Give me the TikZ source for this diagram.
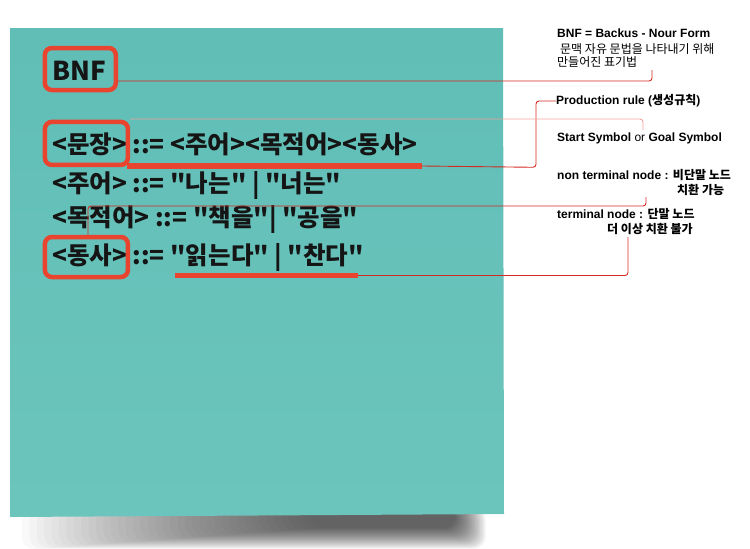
\documentclass[tikz,border=0pt]{standalone}
\usepackage{fontspec}
\setmainfont{Liberation Sans}
\newfontfamily\kr{Noto Sans CJK KR}
\definecolor{panel}{HTML}{60BEB6}
\definecolor{panellow}{HTML}{6CC5BD}
\definecolor{boxred}{HTML}{E8442F}
\definecolor{linered}{HTML}{D42A22}
\definecolor{lightred}{HTML}{F2A49C}
\definecolor{ink}{HTML}{151515}
\tikzset{
  mainline/.style={anchor=base west, inner sep=0pt, text=ink,
    font=\kr\bfseries\fontsize{24.5}{28}\selectfont},
  note/.style={anchor=base west, inner sep=0pt, text=black,
    font=\fontsize{12}{14}\selectfont},
  redbox/.style={draw=boxred, line width=4.5pt, rounded corners=7pt, inner sep=0pt},
  uline/.style={draw=boxred, line width=5.5pt},
  conn/.style={draw=linered, line width=0.9pt, rounded corners=3pt},
  lightconn/.style={draw=lightred, line width=0.9pt, rounded corners=3pt},
}
\begin{document}
\begin{tikzpicture}[x=1pt,y=-1pt]
\useasboundingbox (0,0) rectangle (750,549);
% shadow
\foreach \i in {0,...,39}{
  \fill[black, opacity=0.022, rounded corners=12pt]
    ({22+7.4*\i},508) rectangle ({486-0.8*\i},{549-0.55*\i});
}
% panel
\shade[top color=panel, bottom color=panellow] (10,28) -- (503,28) -- (504,514) -- (10,517) -- cycle;

% main text
\node[mainline, font=\kr\bfseries\fontsize{26}{30}\selectfont] (bnf) at (52,80) {BNF};
\node[mainline] (l1) at (52,153) {<문장> ::= <주어><목적어><동사>};
\node[mainline] (l2) at (52,192) {<주어> ::= "나는" | "너는"};
\node[mainline] (l3) at (52,226) {<목적어> ::= "책을"| "공을"};
\node[mainline] (l4) at (52,264) {<동사> ::= "읽는다" | "찬다"};

% red boxes
\node[redbox, minimum width=71pt, minimum height=42pt] (bnfbox) at (80.3,69) {};
\node[redbox, minimum width=83pt, minimum height=43pt] (mbox) at (86.4,143.4) {};
\node[redbox, minimum width=83pt, minimum height=40pt] (dbox) at (86.4,257) {};

% underlines
\coordinate (u1s) at (127,166);
\coordinate (u1e) at (422,166);
\coordinate (u2s) at (175,275.5);
\coordinate (u2e) at (358,275.5);
\draw[uline] (u1s) -- (u1e);
\draw[uline] (u2s) -- (u2e);

% notes
\node[note, font=\bfseries\fontsize{12}{14}\selectfont] (n1a) at (557,37) {BNF = Backus - Nour Form};
\node[note] (n1b) at (560,53) {{\kr 문맥 자유 문법을 나타내기 위해}};
\node[note] (n1c) at (557,66) {{\kr 만들어진 표기법}};
\node[note] (n2) at (556,104) {\bfseries Production rule ({\kr\bfseries 생성규칙})};
\node[note] (n3) at (557,141) {\bfseries Start Symbol \mdseries or \bfseries Goal Symbol};
\node[note] (n4a) at (557,179) {\bfseries non terminal node : {\kr\bfseries 비단말 노드}};
\node[note] (n4b) at (677,194) {{\kr\bfseries 치환 가능}};
\node[note] (n5a) at (557,218) {\bfseries terminal node : {\kr\bfseries 단말 노드}};
\node[note] (n5b) at (607,233) {{\kr\bfseries 더 이상 치환 불가}};

% connectors
\coordinate (b1) at (118,81);
\coordinate (b2) at (652,81);
\coordinate (b3) at (652,70);
\draw[conn] (b1) -- (b2) -- (b3);

\coordinate (p1) at (536,167.3);
\coordinate (p2) at (536,101);
\draw[conn] (u1e) -- (p1) -- (p2) -- (n2.west |- p2);

\coordinate (s1) at (130,119);
\coordinate (s2) at (643,119);
\coordinate (s3) at (643,130);
\draw[lightconn] (s1) -- (s2) -- (s3);

\coordinate (t1) at (88,206);
\coordinate (t2) at (646,206);
\coordinate (t3) at (646,197);
\draw[conn] (dbox.north -| t1) -- (t1) -- (t2) -- (t3);

\coordinate (q1) at (628,275.5);
\coordinate (q2) at (628,237);
\draw[conn] (u2e) -- (q1) -- (q2);
\end{tikzpicture}
\end{document}
